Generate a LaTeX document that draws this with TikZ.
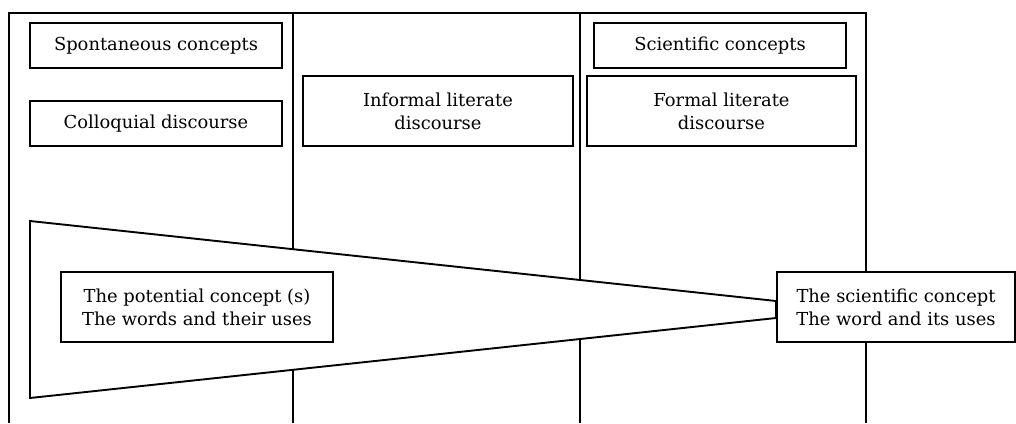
\documentclass[tikz,border=0pt]{standalone}
\usepackage{fontspec}
\setmainfont{DejaVu Serif}
\usetikzlibrary{calc}
\pgfdeclarelayer{frame}
\pgfdeclarelayer{funnel}
\pgfsetlayers{frame,funnel,main}
\begin{document}
\begin{tikzpicture}[x=1pt,y=1pt,
  rule/.style={draw=black, line width=1.9pt},
  every node/.style={font=\fontsize{17.9}{23}\selectfont},
  conceptbox/.style={rule, fill=white, inner sep=0pt, align=center}]
\useasboundingbox (0,0) rectangle (1016,-423);

% column frame
\begin{pgfonlayer}{frame}
\draw[rule] (9,-423) -- (9,-13) -- (866,-13) -- (866,-423);
\draw[rule] (293,-13) -- (293,-423);
\draw[rule] (580,-13) -- (580,-423);
\end{pgfonlayer}

% column headings
\node[conceptbox, minimum width=252pt, minimum height=45pt] (spont) at (156,-45.5)
  {Spontaneous concepts};
\node[conceptbox, minimum width=252pt, minimum height=45pt] (coll) at (156,-123.5)
  {Colloquial discourse};
\node[conceptbox, minimum width=270pt, minimum height=70pt] (inf) at (438,-111)
  {Informal literate\\discourse};
\node[conceptbox, minimum width=252pt, minimum height=45pt] (sci) at (720,-45.5)
  {Scientific concepts};
\node[conceptbox, minimum width=269pt, minimum height=70pt] (form) at (721.5,-111)
  {Formal literate\\discourse};

% the two ends of the funnel
\node[conceptbox, minimum width=272pt, minimum height=70pt] (pot) at (197,-307)
  {The potential concept (s)\\The words and their uses};
\node[conceptbox, minimum width=238pt, minimum height=70pt] (sc) at (896,-307)
  {The scientific concept\\The word and its uses};

% funnel narrowing towards the scientific concept
\coordinate (ft) at (30,-221);
\coordinate (fb) at (30,-398);
\begin{pgfonlayer}{funnel}
\filldraw[rule, fill=white] (ft) -- ($(sc.west)+(0,6)$) -- ($(sc.west)+(0,-11)$) -- (fb) -- cycle;
\end{pgfonlayer}
\end{tikzpicture}
\end{document}
